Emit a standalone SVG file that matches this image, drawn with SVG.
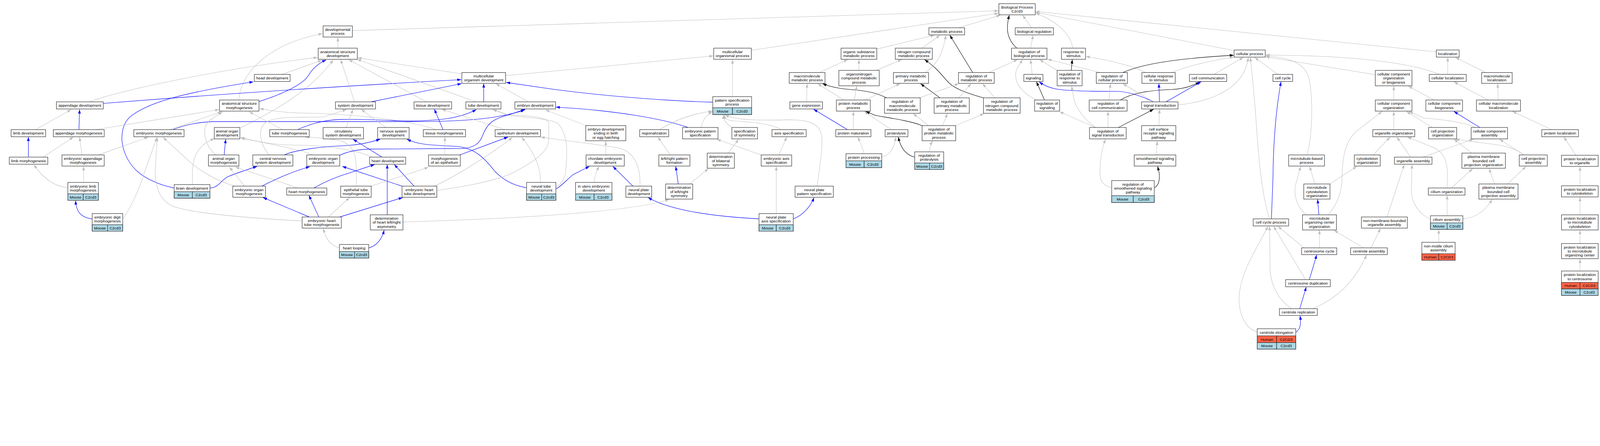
<svg xmlns="http://www.w3.org/2000/svg" width="5200" height="1141" viewBox="0 0 5200 1141" style="width:4104px;height:900.5px">
<style>
.n rect{fill:#fff;stroke:#222;stroke-width:1.4}
.n rect.m{fill:#add8e6}
.n rect.h{fill:#ff6347}
text{font-family:"Liberation Sans",Arial,Helvetica,sans-serif;font-size:12.6px;text-anchor:middle;fill:#000}
#edges path{fill:none}
.g{stroke:#c0c0c0;stroke-width:1.3;marker-end:url(#ag)}
.b{stroke:#0000ff;stroke-width:1.4;marker-end:url(#ab)}
.k{stroke:#000;stroke-width:1.4;marker-end:url(#ak)}
</style>
<defs>
<marker id="ag" viewBox="0 0 13 9" refX="13" refY="4.5" markerWidth="13" markerHeight="9" markerUnits="userSpaceOnUse" orient="auto"><path d="M0,0L13,4.5L0,9z" fill="#c0c0c0"/></marker>
<marker id="ab" viewBox="0 0 13 9" refX="13" refY="4.5" markerWidth="13" markerHeight="9" markerUnits="userSpaceOnUse" orient="auto"><path d="M0,0L13,4.5L0,9z" fill="#0000ff"/></marker>
<marker id="ak" viewBox="0 0 13 9" refX="13" refY="4.5" markerWidth="13" markerHeight="9" markerUnits="userSpaceOnUse" orient="auto"><path d="M0,0L13,4.5L0,9z" fill="#000"/></marker>
</defs>
<rect width="5200" height="1141" fill="#fff"/>
<g id="edges">
<path class="g" d="M775,324 C780,230 880,140 1046,109"/>
<path class="g" d="M290,330 C380,295 700,225 1030,186"/>
<path class="g" d="M915,241 L1044,195"/>
<path class="b" d="M840,329 C930,300 985,270 1000,245 C1015,220 1035,204 1058,194"/>
<path class="g" d="M780,414 C900,355 1010,290 1081,194"/>
<path class="g" d="M1415,420 C1330,390 1150,368 970,366 C920,365 880,358 842,352"/>
<path class="b" d="M336,335 Q900,290 1496,258"/>
<path class="b" d="M564,609 C520,600 470,580 440,550 C390,500 380,420 420,380 C480,330 600,300 822,265"/>
<path class="b" d="M560,420 C600,405 640,395 700,394 L1340,394 C1500,394 1620,385 1702,356"/>
<path class="b" d="M965,420 C1000,405 1040,390 1100,387 C1200,384 1280,393 1340,392 C1420,390 1490,385 1545,355"/>
<path class="g" d="M115,420 L231,355"/>
<path class="b" d="M256,420 L258,355"/>
<path class="g" d="M309,420 L711,355"/>
<path class="g" d="M550,420 L719,362"/>
<path class="g" d="M700,502 C665,470 650,420 680,390 L722,362"/>
<path class="g" d="M917,420 L808,362"/>
<path class="g" d="M140,509 L238,444"/>
<path class="g" d="M266,502 L258,444"/>
<path class="g" d="M319,502 L481,444"/>
<path class="g" d="M399,708 C420,680 450,620 468,560 L509,445"/>
<path class="g" d="M980,716 C800,706 620,690 560,668 C520,650 505,610 503,560 L510,445"/>
<path class="g" d="M761,603 C700,585 640,550 600,510 L529,445"/>
<path class="g" d="M624,598 L624,560 C625,510 640,470 696,449"/>
<path class="b" d="M682,609 C710,608 720,580 740,572 C770,560 800,550 834,539"/>
<path class="g" d="M793,603 L744,541"/>
<path class="g" d="M965,609 C900,585 820,560 763,541"/>
<path class="b" d="M849,603 C900,578 950,555 1005,540"/>
<path class="b" d="M1003,703 L853,640"/>
<path class="b" d="M727,502 L732,451"/>
<path class="g" d="M1205,509 C1160,485 1050,470 960,470 C880,470 820,455 780,445"/>
<path class="g" d="M1015,502 C990,490 900,470 781,448"/>
<path class="g" d="M873,502 C838,460 835,410 870,392 C910,375 1000,381 1050,379 L1124,355"/>
<path class="b" d="M922,502 C960,485 1050,474 1118,472 C1160,470 1200,462 1233,451"/>
<path class="g" d="M1156,603 L1156,560 C1155,500 1150,475 1110,458 C1070,448 1030,446 990,444"/>
<path class="b" d="M1018,609 C1060,585 1100,570 1134,560 L1215,533"/>
<path class="b" d="M1256,696 L1256,533"/>
<path class="b" d="M1343,603 L1279,533"/>
<path class="b" d="M1304,603 L1110,539"/>
<path class="g" d="M1203,603 L1390,542"/>
<path class="g" d="M1409,603 C1460,580 1580,510 1662,445"/>
<path class="g" d="M1753,591 C1755,540 1730,490 1692,445"/>
<path class="g" d="M2076,603 C2078,540 2060,490 2000,478 C1900,462 1800,452 1754,444"/>
<path class="b" d="M1707,608 C1660,600 1630,580 1605,555 C1570,510 1540,480 1480,474 C1400,470 1360,470 1320,451"/>
<path class="g" d="M1417,617 C1480,608 1600,590 1663,560 C1740,520 1780,490 1780,450 L1780,400 C1780,380 1720,375 1650,372 L1598,355"/>
<path class="g" d="M1804,606 C1825,595 1835,570 1835,550 C1840,500 1845,440 1810,400 C1790,385 1700,380 1650,374 L1598,355"/>
<path class="g" d="M1638,420 L1433,354"/>
<path class="b" d="M1437,420 L1409,354"/>
<path class="g" d="M1443,502 L1443,444"/>
<path class="b" d="M1491,502 L1648,444"/>
<path class="b" d="M1239,509 L1145,451"/>
<path class="g" d="M1123,413 L1145,354"/>
<path class="g" d="M1251,413 L1171,354"/>
<path class="g" d="M1150,330 L1105,193"/>
<path class="g" d="M1383,330 L1131,193"/>
<path class="g" d="M1544,330 L1158,192"/>
<path class="g" d="M1496,239 L1160,187"/>
<path class="b" d="M1203,330 L1497,271"/>
<path class="b" d="M1569,330 L1569,271"/>
<path class="g" d="M1714,330 L1608,271"/>
<path class="b" d="M2311,331 C2200,328 2000,316 1800,290 L1642,267"/>
<path class="g" d="M1640,245 L2314,181"/>
<path class="g" d="M1096,156 L1096,121"/>
<path class="g" d="M1143,99 L3239,35"/>
<path class="g" d="M2437,163 L3239,43"/>
<path class="g" d="M2376,313 L2376,193"/>
<path class="g" d="M1902,407 L1769,356"/>
<path class="b" d="M2232,413 C2150,385 2000,358 1803,347"/>
<path class="g" d="M2139,420 C2180,395 2240,368 2311,360"/>
<path class="g" d="M2274,413 C2278,392 2290,372 2311,362"/>
<path class="g" d="M2375,413 C2355,400 2346,390 2347,372"/>
<path class="g" d="M2534,420 C2500,400 2420,394 2380,392 C2360,390 2352,385 2349,372"/>
<path class="g" d="M2650,603 C2660,540 2670,470 2665,440 C2660,400 2620,388 2560,388 C2480,390 2390,392 2352,372"/>
<path class="g" d="M1965,502 L1965,457"/>
<path class="g" d="M2174,502 L2134,444"/>
<path class="g" d="M2362,496 L2396,451"/>
<path class="g" d="M2469,502 L2325,451"/>
<path class="g" d="M2526,502 L2552,444"/>
<path class="b" d="M1804,612 C1825,600 1840,580 1860,565 L1912,539"/>
<path class="g" d="M1927,591 C1928,570 1935,555 1943,539"/>
<path class="b" d="M2053,603 L1988,539"/>
<path class="b" d="M2200,596 L2192,539"/>
<path class="g" d="M2237,596 L2298,546"/>
<path class="g" d="M2518,692 L2518,539"/>
<path class="b" d="M2461,709 C2330,702 2180,685 2102,640"/>
<path class="b" d="M2573,709 C2600,700 2630,670 2640,640"/>
<path class="g" d="M1307,719 C1700,708 2050,685 2171,646"/>
<path class="g" d="M1101,803 C1070,795 1055,770 1049,740"/>
<path class="b" d="M1197,803 C1225,795 1240,770 1246,746"/>
<path class="b" d="M1034,703 L1002,633"/>
<path class="g" d="M1065,703 L1134,640"/>
<path class="b" d="M1102,703 L1306,640"/>
<path class="g" d="M271,591 L271,539"/>
<path class="g" d="M220,608 C180,605 140,580 110,533"/>
<path class="b" d="M298,709 C265,705 248,690 245,650"/>
<path class="b" d="M92,509 L92,444"/>
<path class="b" d="M1102,503 C1130,490 1160,484 1200,483 L1500,481 C1540,478 1555,465 1565,440 C1580,400 1600,385 1645,374 L1704,354"/>
<path class="g" d="M3110,90 L3245,49"/>
<path class="g" d="M3346,90 L3317,49"/>
<path class="k" d="M3298,156 C3270,130 3260,100 3274,49"/>
<path class="g" d="M3343,156 L3351,114"/>
<path class="g" d="M2844,159 L3031,114"/>
<path class="g" d="M2991,156 L3049,114"/>
<path class="g" d="M3001,235 C3040,210 3060,170 3068,114"/>
<path class="k" d="M3155,235 L3081,114"/>
<path class="g" d="M2658,235 L2750,193"/>
<path class="g" d="M2786,228 L2786,193"/>
<path class="g" d="M2843,228 L2925,193"/>
<path class="k" d="M3190,317 C3130,300 3090,285 3070,260 C3040,225 3030,215 2999,193"/>
<path class="g" d="M3208,235 L3301,193"/>
<path class="g" d="M3348,241 L3343,193"/>
<path class="g" d="M3362,324 C3300,295 3285,250 3300,220 L3317,193"/>
<path class="g" d="M3429,228 L3372,193"/>
<path class="g" d="M3568,235 L3398,192"/>
<path class="g" d="M2616,330 L2618,271"/>
<path class="g" d="M2737,324 L2652,271"/>
<path class="k" d="M2875,317 C2840,298 2790,292 2758,290 C2720,287 2690,280 2668,271"/>
<path class="g" d="M2771,324 L2779,279"/>
<path class="g" d="M2806,324 L2920,271"/>
<path class="k" d="M3049,317 L2986,271"/>
<path class="g" d="M2983,317 L3110,271"/>
<path class="g" d="M3110,317 L3150,271"/>
<path class="g" d="M3227,317 L3187,271"/>
<path class="k" d="M3388,324 L3362,265"/>
<path class="b" d="M3742,330 C3700,310 3660,296 3620,296 C3560,296 3480,296 3430,289 C3405,285 3385,276 3371,265"/>
<path class="g" d="M2768,420 L2768,361"/>
<path class="b" d="M2749,420 L2639,354"/>
<path class="g" d="M2891,420 L2803,361"/>
<path class="k" d="M2991,407 C2950,390 2870,380 2840,374 L2808,361"/>
<path class="g" d="M3012,407 L2962,368"/>
<path class="g" d="M3057,407 L3073,368"/>
<path class="g" d="M3100,407 L3192,368"/>
<path class="g" d="M2803,498 C2798,480 2790,460 2782,444"/>
<path class="g" d="M2861,509 C2890,500 2900,480 2906,444"/>
<path class="k" d="M2966,509 C2935,500 2920,475 2914,444"/>
<path class="g" d="M3015,492 C3016,475 3020,465 3025,457"/>
<path class="g" d="M3480,156 C3472,110 3430,70 3359,42"/>
<path class="g" d="M3999,163 L3359,40"/>
<path class="g" d="M4659,168 L3359,37"/>
<path class="k" d="M3475,228 L3478,193"/>
<path class="g" d="M3716,235 C3680,215 3600,195 3522,183"/>
<path class="k" d="M3642,235 C3700,210 3800,190 4002,179"/>
<path class="g" d="M3800,235 C3850,215 3920,198 4002,185"/>
<path class="g" d="M3938,241 L4033,186"/>
<path class="g" d="M3822,340 C3960,325 4040,270 4049,186"/>
<path class="g" d="M4145,241 L4070,186"/>
<path class="g" d="M4118,709 C4090,620 4082,500 4075,400 C4068,300 4060,230 4056,186"/>
<path class="g" d="M4668,241 C4620,220 4500,190 4250,181 L4105,178"/>
<path class="g" d="M4461,242 L4105,184"/>
<path class="g" d="M4240,502 C4255,440 4262,330 4245,250 C4230,200 4170,185 4105,181"/>
<path class="k" d="M3634,324 C3670,302 3730,292 3800,290 C3840,288 3870,278 3891,265"/>
<path class="b" d="M3782,330 L3896,265"/>
<path class="b" d="M3761,330 L3759,271"/>
<path class="g" d="M3742,330 L3642,271"/>
<path class="g" d="M3597,324 L3602,271"/>
<path class="g" d="M3594,413 L3594,361"/>
<path class="k" d="M3628,413 L3742,354"/>
<path class="g" d="M3554,413 L3437,362"/>
<path class="g" d="M3554,413 C3520,390 3490,350 3483,320 L3476,279"/>
<path class="g" d="M3605,608 C3575,600 3568,585 3568,560 C3568,520 3575,480 3586,451"/>
<path class="g" d="M3759,407 L3761,354"/>
<path class="g" d="M3750,502 L3754,457"/>
<path class="k" d="M3745,608 C3760,600 3762,580 3760,560 L3755,539"/>
<path class="b" d="M4124,709 L4129,580 C4130,450 4140,350 4155,265"/>
<path class="g" d="M4237,696 C4200,664 4195,620 4205,590 L4219,539"/>
<path class="g" d="M4265,596 L4248,539"/>
<path class="g" d="M4696,241 L4696,186"/>
<path class="g" d="M4819,235 L4721,186"/>
<path class="g" d="M4521,324 L4521,279"/>
<path class="g" d="M4652,324 L4568,279"/>
<path class="g" d="M4827,324 L4716,265"/>
<path class="g" d="M4860,324 L4858,271"/>
<path class="g" d="M4521,420 L4521,361"/>
<path class="g" d="M4646,413 L4562,361"/>
<path class="g" d="M4787,413 C4750,395 4660,385 4620,383 L4570,361"/>
<path class="b" d="M4800,413 L4716,361"/>
<path class="g" d="M5033,420 L4906,361"/>
<path class="g" d="M4308,696 C4340,660 4352,620 4353,580 C4354,520 4360,460 4400,425 L4483,361"/>
<path class="g" d="M4454,502 L4509,444"/>
<path class="g" d="M4576,509 L4531,444"/>
<path class="g" d="M4694,609 L4695,560 C4692,510 4680,493 4650,478 L4565,444"/>
<path class="g" d="M4615,509 L4779,451"/>
<path class="g" d="M4774,496 L4716,451"/>
<path class="g" d="M4943,502 C4910,475 4860,468 4800,462 L4721,451"/>
<path class="g" d="M4943,502 L4864,451"/>
<path class="g" d="M4314,596 L4401,539"/>
<path class="g" d="M4499,703 L4555,533"/>
<path class="g" d="M4639,709 C4605,695 4580,660 4578,620 L4580,533"/>
<path class="g" d="M4708,609 L4777,546"/>
<path class="g" d="M4848,596 L4830,546"/>
<path class="g" d="M4890,596 L4950,539"/>
<path class="g" d="M5112,503 L5073,444"/>
<path class="g" d="M5125,602 L5125,540"/>
<path class="g" d="M5125,696 L5125,639"/>
<path class="g" d="M5125,789 L5125,746"/>
<path class="g" d="M5125,878 L5125,839"/>
<path class="b" d="M4278,696 L4274,646"/>
<path class="g" d="M4280,803 L4280,746"/>
<path class="g" d="M4422,803 L4327,746"/>
<path class="g" d="M4447,803 L4478,740"/>
<path class="b" d="M4247,906 L4271,826"/>
<path class="g" d="M4258,1000 C4330,970 4390,920 4433,826"/>
<path class="g" d="M4694,699 L4694,633"/>
<path class="g" d="M4746,709 C4790,705 4820,680 4840,646"/>
<path class="g" d="M4667,785 L4667,744"/>
<path class="g" d="M4230,803 L4145,733"/>
<path class="g" d="M4078,1076 C4030,1060 4015,1000 4020,950 C4030,870 4080,800 4113,733"/>
<path class="g" d="M4190,1000 C4150,975 4125,930 4120,880 L4118,733"/>
<path class="g" d="M4235,906 L4131,733"/>
<path class="b" d="M4216,1000 L4237,930"/>
<path class="b" d="M4204,1076 C4220,1065 4220,1045 4217,1023"/>
</g>
<g id="nodes">
<g id="limbdev" class="n"><rect x="36" y="420" width="112" height="23"/><text x="92" y="436">limb development</text></g>
<g id="limbmorph" class="n"><rect x="30" y="509" width="125" height="23"/><text x="92.5" y="525">limb morphogenesis</text></g>
<g id="headdev" class="n"><rect x="825" y="241" width="116" height="23"/><text x="883" y="257">head development</text></g>
<g id="appdev" class="n"><rect x="183" y="330" width="152" height="23"/><text x="259" y="346">appendage development</text></g>
<g id="asm" class="n"><rect x="712" y="324" width="128" height="36"/><text><tspan x="776" y="340">anatomical structure</tspan><tspan x="776" y="353">morphogenesis</tspan></text></g>
<g id="appmorph" class="n"><rect x="173" y="420" width="165" height="23"/><text x="255.5" y="436">appendage morphogenesis</text></g>
<g id="embmorph" class="n"><rect x="434" y="420" width="163" height="23"/><text x="515.5" y="436">embryonic morphogenesis</text></g>
<g id="aod" class="n"><rect x="695" y="413" width="83" height="37"/><text><tspan x="736.5" y="429.5">animal organ</tspan><tspan x="736.5" y="442.5">development</tspan></text></g>
<g id="tubemorph" class="n"><rect x="875" y="420" width="128" height="23"/><text x="939" y="436">tube morphogenesis</text></g>
<g id="eam" class="n"><rect x="201" y="502" width="137" height="36"/><text><tspan x="269.5" y="518">embryonic appendage</tspan><tspan x="269.5" y="531">morphogenesis</tspan></text></g>
<g id="aom" class="n"><rect x="676" y="502" width="99" height="36"/><text><tspan x="725.5" y="518">animal organ</tspan><tspan x="725.5" y="531">morphogenesis</tspan></text></g>
<g id="cnsd" class="n"><rect x="820" y="502" width="130" height="36"/><text><tspan x="885" y="518">central nervous</tspan><tspan x="885" y="531">system development</tspan></text></g>
<g id="elm" class="n"><rect x="220" y="591" width="99" height="58"/><text><tspan x="269.5" y="607.5">embryonic limb</tspan><tspan x="269.5" y="620.5">morphogenesis</tspan></text><rect class="m" x="220" y="628" width="50" height="21"/><rect class="m" x="270" y="628" width="49" height="21"/><text x="245" y="643">Mouse</text><text x="294.5" y="643">C2cd3</text></g>
<g id="edm" class="n"><rect x="299" y="692" width="99" height="57"/><text><tspan x="348.5" y="708">embryonic digit</tspan><tspan x="348.5" y="721">morphogenesis</tspan></text><rect class="m" x="299" y="728" width="50" height="21"/><rect class="m" x="349" y="728" width="49" height="21"/><text x="324" y="743">Mouse</text><text x="373.5" y="743">C2cd3</text></g>
<g id="brain" class="n"><rect x="565" y="598" width="116" height="44"/><text x="623" y="614">brain development</text><rect class="m" x="565" y="621" width="59" height="21"/><rect class="m" x="624" y="621" width="57" height="21"/><text x="594.5" y="636">Mouse</text><text x="652.5" y="636">C2cd3</text></g>
<g id="eom" class="n"><rect x="755" y="603" width="106" height="36"/><text><tspan x="808" y="619">embryonic organ</tspan><tspan x="808" y="632">morphogenesis</tspan></text></g>
<g id="heartmorph" class="n"><rect x="930" y="609" width="130" height="23"/><text x="995" y="625">heart morphogenesis</text></g>
<g id="devproc" class="n"><rect x="1048" y="84" width="95" height="36"/><text><tspan x="1095.5" y="100">developmental</tspan><tspan x="1095.5" y="113">process</tspan></text></g>
<g id="asd" class="n"><rect x="1032" y="156" width="127" height="36"/><text><tspan x="1095.5" y="172">anatomical structure</tspan><tspan x="1095.5" y="185">development</tspan></text></g>
<g id="mod" class="n"><rect x="1498" y="235" width="142" height="35"/><text><tspan x="1569" y="250.5">multicellular</tspan><tspan x="1569" y="263.5">organism development</tspan></text></g>
<g id="sysdev" class="n"><rect x="1088" y="330" width="130" height="23"/><text x="1153" y="346">system development</text></g>
<g id="tissuedev" class="n"><rect x="1343" y="330" width="122" height="23"/><text x="1404" y="346">tissue development</text></g>
<g id="tubedev" class="n"><rect x="1511" y="330" width="114" height="23"/><text x="1568" y="346">tube development</text></g>
<g id="embryodev" class="n"><rect x="1670" y="330" width="132" height="23"/><text x="1736" y="346">embryo development</text></g>
<g id="circ" class="n"><rect x="1048" y="413" width="131" height="37"/><text><tspan x="1113.5" y="429.5">circulatory</tspan><tspan x="1113.5" y="442.5">system development</tspan></text></g>
<g id="nsd" class="n"><rect x="1225" y="413" width="102" height="37"/><text><tspan x="1276" y="429.5">nervous system</tspan><tspan x="1276" y="442.5">development</tspan></text></g>
<g id="tissuemorph" class="n"><rect x="1373" y="420" width="137" height="23"/><text x="1441.5" y="436">tissue morphogenesis</text></g>
<g id="epidev" class="n"><rect x="1606" y="420" width="147" height="23"/><text x="1679.5" y="436">epithelium development</text></g>
<g id="eod" class="n"><rect x="995" y="502" width="107" height="36"/><text><tspan x="1048.5" y="518">embryonic organ</tspan><tspan x="1048.5" y="531">development</tspan></text></g>
<g id="heartdev" class="n"><rect x="1199" y="509" width="117" height="23"/><text x="1257.5" y="525">heart development</text></g>
<g id="moe" class="n"><rect x="1390" y="502" width="103" height="36"/><text><tspan x="1441.5" y="518">morphogenesis</tspan><tspan x="1441.5" y="531">of an epithelium</tspan></text></g>
<g id="etm" class="n"><rect x="1105" y="603" width="99" height="36"/><text><tspan x="1154.5" y="619">epithelial tube</tspan><tspan x="1154.5" y="632">morphogenesis</tspan></text></g>
<g id="ehtd" class="n"><rect x="1304" y="603" width="113" height="36"/><text><tspan x="1360.5" y="619">embryonic heart</tspan><tspan x="1360.5" y="632">tube development</tspan></text></g>
<g id="ntd" class="n"><rect x="1708" y="591" width="95" height="58"/><text><tspan x="1755.5" y="607.5">neural tube</tspan><tspan x="1755.5" y="620.5">development</tspan></text><rect class="m" x="1708" y="628" width="49" height="21"/><rect class="m" x="1757" y="628" width="46" height="21"/><text x="1732.5" y="643">Mouse</text><text x="1780" y="643">C2cd3</text></g>
<g id="ehtm" class="n"><rect x="980" y="703" width="127" height="36"/><text><tspan x="1043.5" y="719">embryonic heart</tspan><tspan x="1043.5" y="732">tube morphogenesis</tspan></text></g>
<g id="dhlr" class="n"><rect x="1201" y="696" width="106" height="49"/><text><tspan x="1254" y="712">determination</tspan><tspan x="1254" y="725">of heart left/right</tspan><tspan x="1254" y="738">asymmetry</tspan></text></g>
<g id="hl" class="n"><rect x="1101" y="792" width="95" height="44"/><text x="1148.5" y="808">heart looping</text><rect class="m" x="1101" y="815" width="49" height="21"/><rect class="m" x="1150" y="815" width="46" height="21"/><text x="1125.5" y="830">Mouse</text><text x="1173" y="830">C2cd3</text></g>
<g id="mop" class="n"><rect x="2315" y="156" width="122" height="36"/><text><tspan x="2376" y="172">multicellular</tspan><tspan x="2376" y="185">organismal process</tspan></text></g>
<g id="psp" class="n"><rect x="2312" y="313" width="126" height="58"/><text><tspan x="2375" y="329">pattern specification</tspan><tspan x="2375" y="342">process</tspan></text><rect class="m" x="2312" y="349" width="64" height="22"/><rect class="m" x="2376" y="349" width="62" height="22"/><text x="2344" y="365">Mouse</text><text x="2407" y="365">C2cd3</text></g>
<g id="edeb" class="n"><rect x="1900" y="407" width="130" height="49"/><text><tspan x="1965" y="423">embryo development</tspan><tspan x="1965" y="436">ending in birth</tspan><tspan x="1965" y="449">or egg hatching</tspan></text></g>
<g id="region" class="n"><rect x="2075" y="420" width="94" height="23"/><text x="2122" y="436">regionalization</text></g>
<g id="eps" class="n"><rect x="2214" y="413" width="115" height="37"/><text><tspan x="2271.5" y="429.5">embryonic pattern</tspan><tspan x="2271.5" y="442.5">specification</tspan></text></g>
<g id="sos" class="n"><rect x="2374" y="413" width="83" height="37"/><text><tspan x="2415.5" y="429.5">specification</tspan><tspan x="2415.5" y="442.5">of symmetry</tspan></text></g>
<g id="axis" class="n"><rect x="2504" y="420" width="111" height="23"/><text x="2559.5" y="436">axis specification</text></g>
<g id="ced" class="n"><rect x="1901" y="502" width="124" height="36"/><text><tspan x="1963" y="518">chordate embryonic</tspan><tspan x="1963" y="531">development</tspan></text></g>
<g id="lrpf" class="n"><rect x="2137" y="502" width="101" height="36"/><text><tspan x="2187.5" y="518">left/right pattern</tspan><tspan x="2187.5" y="531">formation</tspan></text></g>
<g id="dbs" class="n"><rect x="2294" y="496" width="88" height="49"/><text><tspan x="2338" y="512">determination</tspan><tspan x="2338" y="525">of bilateral</tspan><tspan x="2338" y="538">symmetry</tspan></text></g>
<g id="eas" class="n"><rect x="2469" y="502" width="99" height="36"/><text><tspan x="2518.5" y="518">embryonic axis</tspan><tspan x="2518.5" y="531">specification</tspan></text></g>
<g id="iued" class="n"><rect x="1867" y="591" width="118" height="58"/><text><tspan x="1926" y="607.5">in utero embryonic</tspan><tspan x="1926" y="620.5">development</tspan></text><rect class="m" x="1867" y="628" width="60" height="21"/><rect class="m" x="1927" y="628" width="58" height="21"/><text x="1897" y="643">Mouse</text><text x="1956" y="643">C2cd3</text></g>
<g id="npd" class="n"><rect x="2030" y="603" width="84" height="36"/><text><tspan x="2072" y="619">neural plate</tspan><tspan x="2072" y="632">development</tspan></text></g>
<g id="dlrs" class="n"><rect x="2159" y="596" width="88" height="49"/><text><tspan x="2203" y="612">determination</tspan><tspan x="2203" y="625">of left/right</tspan><tspan x="2203" y="638">symmetry</tspan></text></g>
<g id="npas" class="n"><rect x="2462" y="692" width="111" height="57"/><text><tspan x="2517.5" y="708">neural plate</tspan><tspan x="2517.5" y="721">axis specification</tspan></text><rect class="m" x="2462" y="728" width="56" height="21"/><rect class="m" x="2518" y="728" width="55" height="21"/><text x="2490" y="743">Mouse</text><text x="2545.5" y="743">C2cd3</text></g>
<g id="npps" class="n"><rect x="2579" y="603" width="124" height="36"/><text><tspan x="2641" y="619">neural plate</tspan><tspan x="2641" y="632">pattern specification</tspan></text></g>
<g id="bp" class="n"><rect x="3240" y="12" width="118" height="36"/><text><tspan x="3299" y="28">Biological Process</tspan><tspan x="3299" y="41">C2cd3</tspan></text></g>
<g id="mp" class="n"><rect x="3013" y="90" width="116" height="23"/><text x="3071" y="106">metabolic process</text></g>
<g id="breg" class="n"><rect x="3293" y="90" width="124" height="23"/><text x="3355" y="106">biological regulation</text></g>
<g id="osmp" class="n"><rect x="2728" y="156" width="116" height="36"/><text><tspan x="2786" y="172">organic substance</tspan><tspan x="2786" y="185">metabolic process</tspan></text></g>
<g id="ncmp" class="n"><rect x="2904" y="156" width="120" height="36"/><text><tspan x="2964" y="172">nitrogen compound</tspan><tspan x="2964" y="185">metabolic process</tspan></text></g>
<g id="rbp" class="n"><rect x="3281" y="156" width="115" height="36"/><text><tspan x="3338.5" y="172">regulation of</tspan><tspan x="3338.5" y="185">biological process</tspan></text></g>
<g id="mmp" class="n"><rect x="2560" y="235" width="116" height="35"/><text><tspan x="2618" y="250.5">macromolecule</tspan><tspan x="2618" y="263.5">metabolic process</tspan></text></g>
<g id="oncmp" class="n"><rect x="2721" y="228" width="131" height="50"/><text><tspan x="2786.5" y="244.5">organonitrogen</tspan><tspan x="2786.5" y="257.5">compound metabolic</tspan><tspan x="2786.5" y="270.5">process</tspan></text></g>
<g id="pmp" class="n"><rect x="2898" y="235" width="114" height="35"/><text><tspan x="2955" y="250.5">primary metabolic</tspan><tspan x="2955" y="263.5">process</tspan></text></g>
<g id="rmp" class="n"><rect x="3109" y="235" width="116" height="35"/><text><tspan x="3167" y="250.5">regulation of</tspan><tspan x="3167" y="263.5">metabolic process</tspan></text></g>
<g id="sig" class="n"><rect x="3321" y="241" width="62" height="23"/><text x="3352" y="257">signaling</text></g>
<g id="rrs" class="n"><rect x="3429" y="228" width="81" height="50"/><text><tspan x="3469.5" y="244.5">regulation of</tspan><tspan x="3469.5" y="257.5">response to</tspan><tspan x="3469.5" y="270.5">stimulus</tspan></text></g>
<g id="ge" class="n"><rect x="2562" y="330" width="106" height="23"/><text x="2615" y="346">gene expression</text></g>
<g id="protmp" class="n"><rect x="2713" y="324" width="110" height="36"/><text><tspan x="2768" y="340">protein metabolic</tspan><tspan x="2768" y="353">process</tspan></text></g>
<g id="rmmp" class="n"><rect x="2869" y="317" width="116" height="50"/><text><tspan x="2927" y="333.5">regulation of</tspan><tspan x="2927" y="346.5">macromolecule</tspan><tspan x="2927" y="359.5">metabolic process</tspan></text></g>
<g id="rpmp" class="n"><rect x="3030" y="317" width="114" height="50"/><text><tspan x="3087" y="333.5">regulation of</tspan><tspan x="3087" y="346.5">primary metabolic</tspan><tspan x="3087" y="359.5">process</tspan></text></g>
<g id="rncmp" class="n"><rect x="3190" y="317" width="119" height="50"/><text><tspan x="3249.5" y="333.5">regulation of</tspan><tspan x="3249.5" y="346.5">nitrogen compound</tspan><tspan x="3249.5" y="359.5">metabolic process</tspan></text></g>
<g id="rsig" class="n"><rect x="3356" y="324" width="81" height="36"/><text><tspan x="3396.5" y="340">regulation of</tspan><tspan x="3396.5" y="353">signaling</tspan></text></g>
<g id="pmat" class="n"><rect x="2711" y="420" width="114" height="23"/><text x="2768" y="436">protein maturation</text></g>
<g id="prot" class="n"><rect x="2871" y="420" width="74" height="23"/><text x="2908" y="436">proteolysis</text></g>
<g id="rprotmp" class="n"><rect x="2991" y="407" width="109" height="49"/><text><tspan x="3045.5" y="423">regulation of</tspan><tspan x="3045.5" y="436">protein metabolic</tspan><tspan x="3045.5" y="449">process</tspan></text></g>
<g id="pproc" class="n"><rect x="2744" y="498" width="116" height="45"/><text x="2802" y="514">protein processing</text><rect class="m" x="2744" y="521" width="59" height="22"/><rect class="m" x="2803" y="521" width="57" height="22"/><text x="2773.5" y="537">Mouse</text><text x="2831.5" y="537">C2cd3</text></g>
<g id="rprot" class="n"><rect x="2967" y="492" width="94" height="57"/><text><tspan x="3014" y="508">regulation of</tspan><tspan x="3014" y="521">proteolysis</tspan></text><rect class="m" x="2967" y="528" width="48" height="21"/><rect class="m" x="3015" y="528" width="46" height="21"/><text x="2991" y="543">Mouse</text><text x="3038" y="543">C2cd3</text></g>
<g id="rs" class="n"><rect x="3443" y="156" width="78" height="36"/><text><tspan x="3482" y="172">response to</tspan><tspan x="3482" y="185">stimulus</tspan></text></g>
<g id="rcp" class="n"><rect x="3556" y="235" width="101" height="35"/><text><tspan x="3606.5" y="250.5">regulation of</tspan><tspan x="3606.5" y="263.5">cellular process</tspan></text></g>
<g id="crs" class="n"><rect x="3704" y="235" width="108" height="35"/><text><tspan x="3758" y="250.5">cellular response</tspan><tspan x="3758" y="263.5">to stimulus</tspan></text></g>
<g id="cc" class="n"><rect x="3858" y="241" width="121" height="23"/><text x="3918.5" y="257">cell communication</text></g>
<g id="cp" class="n"><rect x="4003" y="162" width="101" height="23"/><text x="4053.5" y="178">cellular process</text></g>
<g id="ccyc" class="n"><rect x="4129" y="241" width="64" height="23"/><text x="4161" y="257">cell cycle</text></g>
<g id="rcc" class="n"><rect x="3533" y="324" width="123" height="36"/><text><tspan x="3594.5" y="340">regulation of</tspan><tspan x="3594.5" y="353">cell communication</tspan></text></g>
<g id="st" class="n"><rect x="3703" y="330" width="118" height="23"/><text x="3762" y="346">signal transduction</text></g>
<g id="rst" class="n"><rect x="3534" y="413" width="119" height="37"/><text><tspan x="3593.5" y="429.5">regulation of</tspan><tspan x="3593.5" y="442.5">signal transduction</tspan></text></g>
<g id="csrsp" class="n"><rect x="3703" y="407" width="111" height="49"/><text><tspan x="3758.5" y="423">cell surface</tspan><tspan x="3758.5" y="436">receptor signaling</tspan><tspan x="3758.5" y="449">pathway</tspan></text></g>
<g id="ssp" class="n"><rect x="3679" y="502" width="135" height="36"/><text><tspan x="3746.5" y="518">smoothened signaling</tspan><tspan x="3746.5" y="531">pathway</tspan></text></g>
<g id="mtbp" class="n"><rect x="4180" y="502" width="116" height="36"/><text><tspan x="4238" y="518">microtubule-based</tspan><tspan x="4238" y="531">process</tspan></text></g>
<g id="rssp" class="n"><rect x="3606" y="585" width="138" height="71"/><text><tspan x="3675" y="601">regulation of</tspan><tspan x="3675" y="614">smoothened signaling</tspan><tspan x="3675" y="627">pathway</tspan></text><rect class="m" x="3606" y="634" width="70" height="22"/><rect class="m" x="3676" y="634" width="68" height="22"/><text x="3641" y="650">Mouse</text><text x="3710" y="650">C2cd3</text></g>
<g id="ccp" class="n"><rect x="4065" y="709" width="115" height="23"/><text x="4122.5" y="725">cell cycle process</text></g>
<g id="mtco" class="n"><rect x="4229" y="596" width="85" height="49"/><text><tspan x="4271.5" y="612">microtubule</tspan><tspan x="4271.5" y="625">cytoskeleton</tspan><tspan x="4271.5" y="638">organization</tspan></text></g>
<g id="mtoco" class="n"><rect x="4225" y="696" width="110" height="49"/><text><tspan x="4280" y="712">microtubule</tspan><tspan x="4280" y="725">organizing center</tspan><tspan x="4280" y="738">organization</tspan></text></g>
<g id="csc" class="n"><rect x="4222" y="803" width="114" height="22"/><text x="4279" y="818.5">centrosome cycle</text></g>
<g id="csd" class="n"><rect x="4170" y="906" width="145" height="23"/><text x="4242.5" y="922">centrosome duplication</text></g>
<g id="crep" class="n"><rect x="4150" y="1000" width="123" height="22"/><text x="4211.5" y="1015.5">centriole replication</text></g>
<g id="celong" class="n"><rect x="4078" y="1065" width="125" height="66"/><text x="4140.5" y="1081">centriole elongation</text><rect class="h" x="4078" y="1088" width="63" height="22"/><rect class="h" x="4141" y="1088" width="62" height="22"/><rect class="m" x="4078" y="1110" width="63" height="21"/><rect class="m" x="4141" y="1110" width="62" height="21"/><text x="4109.5" y="1104">Human</text><text x="4172" y="1104">C2CD3</text><text x="4109.5" y="1125">Mouse</text><text x="4172" y="1125">C2cd3</text></g>
<g id="loc" class="n"><rect x="4659" y="162" width="74" height="23"/><text x="4696" y="178">localization</text></g>
<g id="ccob" class="n"><rect x="4461" y="228" width="119" height="50"/><text><tspan x="4520.5" y="244.5">cellular component</tspan><tspan x="4520.5" y="257.5">organization</tspan><tspan x="4520.5" y="270.5">or biogenesis</tspan></text></g>
<g id="cloc" class="n"><rect x="4636" y="241" width="120" height="23"/><text x="4696" y="257">cellular localization</text></g>
<g id="mloc" class="n"><rect x="4806" y="235" width="99" height="35"/><text><tspan x="4855.5" y="250.5">macromolecule</tspan><tspan x="4855.5" y="263.5">localization</tspan></text></g>
<g id="cco" class="n"><rect x="4461" y="324" width="119" height="36"/><text><tspan x="4520.5" y="340">cellular component</tspan><tspan x="4520.5" y="353">organization</tspan></text></g>
<g id="ccb" class="n"><rect x="4625" y="324" width="119" height="36"/><text><tspan x="4684.5" y="340">cellular component</tspan><tspan x="4684.5" y="353">biogenesis</tspan></text></g>
<g id="cmloc" class="n"><rect x="4789" y="324" width="143" height="36"/><text><tspan x="4860.5" y="340">cellular macromolecule</tspan><tspan x="4860.5" y="353">localization</tspan></text></g>
<g id="oo" class="n"><rect x="4453" y="420" width="136" height="23"/><text x="4521" y="436">organelle organization</text></g>
<g id="cpo" class="n"><rect x="4634" y="413" width="91" height="37"/><text><tspan x="4679.5" y="429.5">cell projection</tspan><tspan x="4679.5" y="442.5">organization</tspan></text></g>
<g id="cca" class="n"><rect x="4772" y="413" width="118" height="37"/><text><tspan x="4831" y="429.5">cellular component</tspan><tspan x="4831" y="442.5">assembly</tspan></text></g>
<g id="ploc" class="n"><rect x="5001" y="420" width="119" height="23"/><text x="5060.5" y="436">protein localization</text></g>
<g id="cso" class="n"><rect x="4393" y="502" width="84" height="36"/><text><tspan x="4435" y="518">cytoskeleton</tspan><tspan x="4435" y="531">organization</tspan></text></g>
<g id="oa" class="n"><rect x="4523" y="509" width="122" height="23"/><text x="4584" y="525">organelle assembly</text></g>
<g id="pmbcpo" class="n"><rect x="4742" y="496" width="141" height="49"/><text><tspan x="4812.5" y="512">plasma membrane</tspan><tspan x="4812.5" y="525">bounded cell</tspan><tspan x="4812.5" y="538">projection organization</tspan></text></g>
<g id="cpa" class="n"><rect x="4928" y="502" width="91" height="36"/><text><tspan x="4973.5" y="518">cell projection</tspan><tspan x="4973.5" y="531">assembly</tspan></text></g>
<g id="plorg" class="n"><rect x="5065" y="503" width="119" height="36"/><text><tspan x="5124.5" y="519">protein localization</tspan><tspan x="5124.5" y="532">to organelle</tspan></text></g>
<g id="plcyto" class="n"><rect x="5065" y="602" width="119" height="36"/><text><tspan x="5124.5" y="618">protein localization</tspan><tspan x="5124.5" y="631">to cytoskeleton</tspan></text></g>
<g id="plmtc" class="n"><rect x="5065" y="696" width="119" height="49"/><text><tspan x="5124.5" y="712">protein localization</tspan><tspan x="5124.5" y="725">to microtubule</tspan><tspan x="5124.5" y="738">cytoskeleton</tspan></text></g>
<g id="plmtoc" class="n"><rect x="5065" y="789" width="119" height="49"/><text><tspan x="5124.5" y="805">protein localization</tspan><tspan x="5124.5" y="818">to microtubule</tspan><tspan x="5124.5" y="831">organizing center</tspan></text></g>
<g id="plcs" class="n"><rect x="5065" y="878" width="119" height="79"/><text><tspan x="5124.5" y="894.5">protein localization</tspan><tspan x="5124.5" y="907.5">to centrosome</tspan></text><rect class="h" x="5065" y="915" width="60" height="21"/><rect class="h" x="5125" y="915" width="59" height="21"/><rect class="m" x="5065" y="936" width="60" height="21"/><rect class="m" x="5125" y="936" width="59" height="21"/><text x="5095" y="930">Human</text><text x="5154.5" y="930">C2CD3</text><text x="5095" y="951">Mouse</text><text x="5154.5" y="951">C2cd3</text></g>
<g id="nmboa" class="n"><rect x="4416" y="703" width="149" height="36"/><text><tspan x="4490.5" y="719">non-membrane-bounded</tspan><tspan x="4490.5" y="732">organelle assembly</tspan></text></g>
<g id="ciliumorg" class="n"><rect x="4633" y="609" width="119" height="23"/><text x="4692.5" y="625">cilium organization</text></g>
<g id="pmbcpa" class="n"><rect x="4797" y="596" width="127" height="49"/><text><tspan x="4860.5" y="612">plasma membrane</tspan><tspan x="4860.5" y="625">bounded cell</tspan><tspan x="4860.5" y="638">projection assembly</tspan></text></g>
<g id="ca" class="n"><rect x="4640" y="699" width="105" height="44"/><text x="4692.5" y="715">cilium assembly</text><rect class="m" x="4640" y="722" width="54" height="21"/><rect class="m" x="4694" y="722" width="51" height="21"/><text x="4667" y="737">Mouse</text><text x="4719.5" y="737">C2cd3</text></g>
<g id="nmca" class="n"><rect x="4612" y="785" width="108" height="58"/><text><tspan x="4666" y="801.5">non-motile cilium</tspan><tspan x="4666" y="814.5">assembly</tspan></text><rect class="h" x="4612" y="822" width="55" height="21"/><rect class="h" x="4667" y="822" width="53" height="21"/><text x="4639.5" y="837">Human</text><text x="4693.5" y="837">C2CD3</text></g>
<g id="centasm" class="n"><rect x="4381" y="803" width="119" height="22"/><text x="4440.5" y="818.5">centriole assembly</text></g>
</g>
</svg>
